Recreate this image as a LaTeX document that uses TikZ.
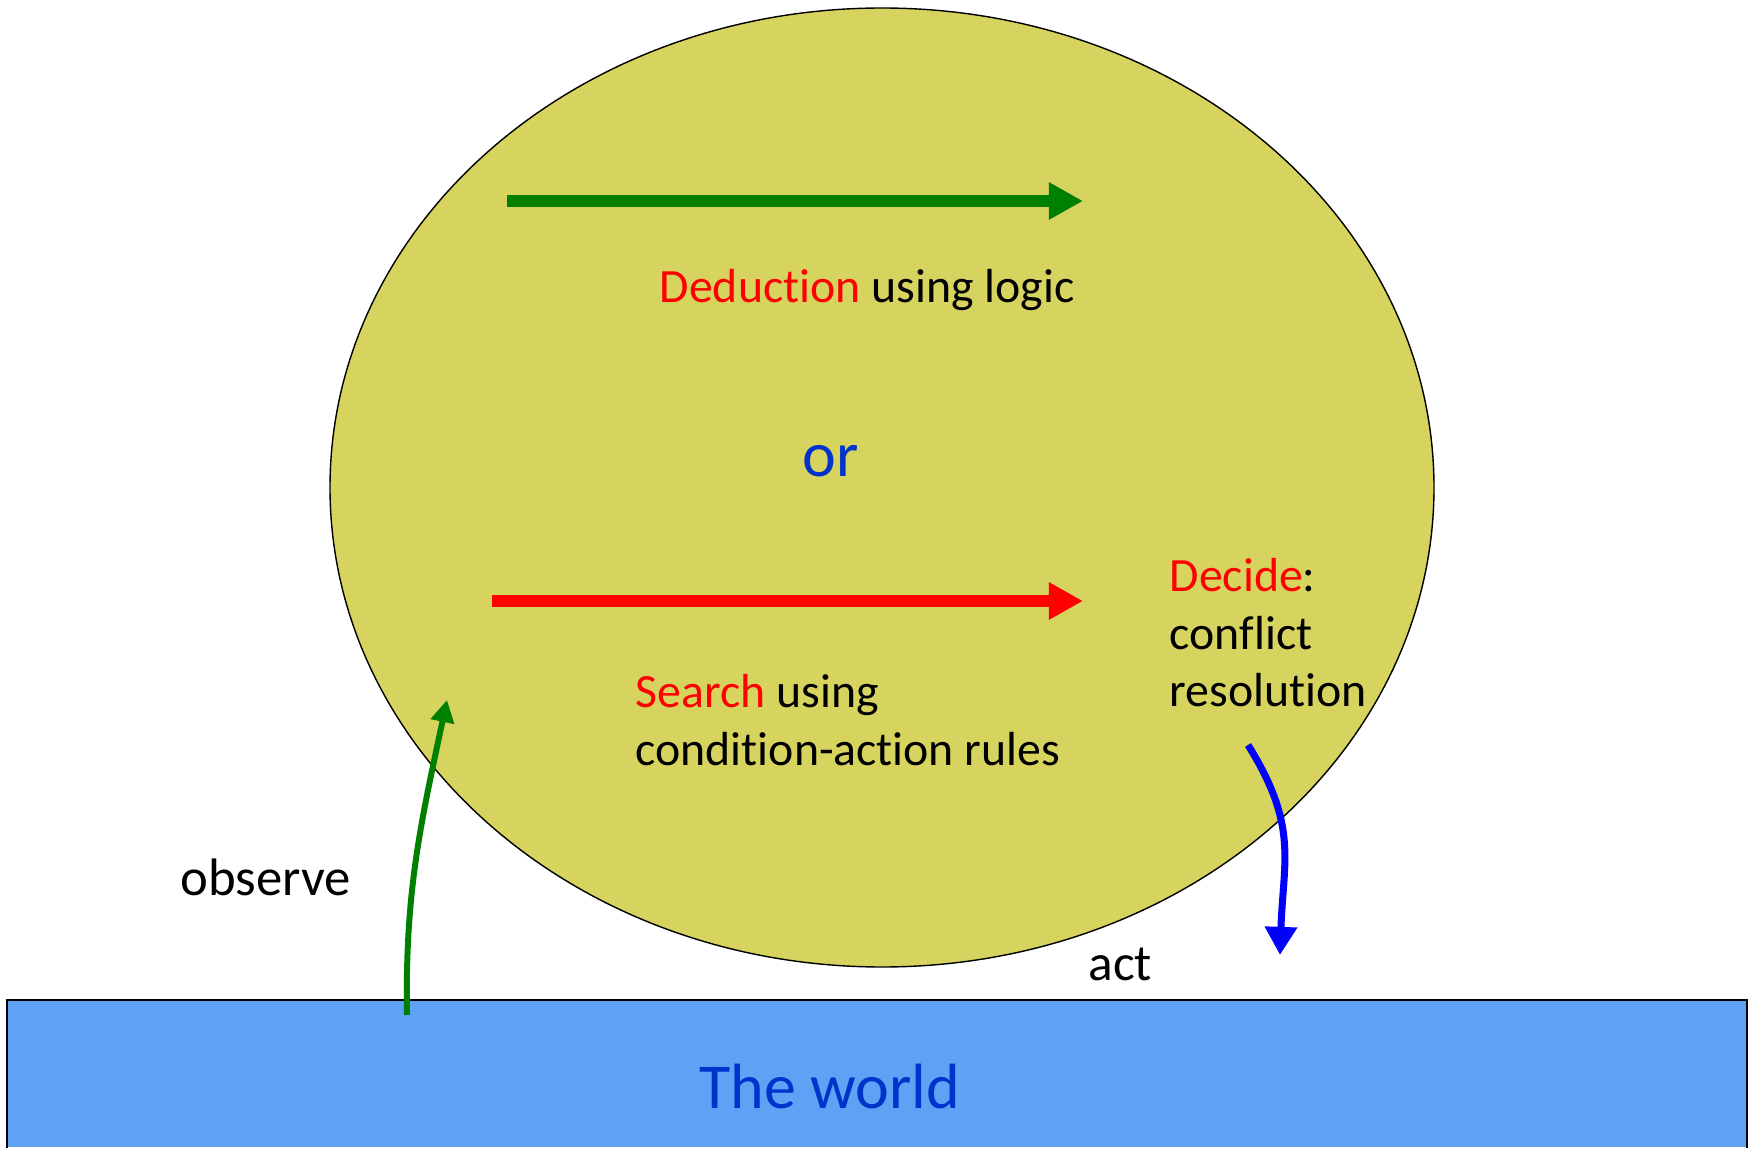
\documentclass[tikz,border=0pt]{standalone}
\usepackage{fontspec}
\setmainfont{Carlito}[Ligatures=NoCommon]
\usetikzlibrary{arrows.meta, shapes.geometric}
\definecolor{mindfill}{RGB}{214,211,94}
\definecolor{worldfill}{RGB}{95,161,245}
\definecolor{darkgreen}{RGB}{0,128,0}
\definecolor{deepblue}{RGB}{0,51,204}

\begin{document}
\begin{tikzpicture}[
        txt/.style={inner sep=0, anchor=base west, align=left, font=\fontsize{13.6}{16.4}\selectfont},
        bigtxt/.style={inner sep=0, anchor=base west, text=deepblue, font=\fontsize{18.2}{22}\selectfont},
        bar/.style={line width=3.3pt, -{Triangle[length=9.7pt, width=10pt]}}]
        \useasboundingbox (0,0) rectangle (17.54,11.48);

        \node[ellipse, draw, fill=mindfill, inner sep=0, minimum width=11.04cm, minimum height=9.59cm] (mind) at (8.82,6.605) {};
        \node[fill=worldfill, inner sep=0, anchor=south west, minimum width=17.39cm, minimum height=1.47cm] (world) at (0.07,0) {};
        \draw[line width=0.6pt] (world.south west) |- (world.north east) -- (world.south east);

        \coordinate (dedstart) at (5.07,9.47);
        \coordinate (dedend) at (10.83,9.47);
        \draw[bar, darkgreen] (dedstart) -- (dedend);
        \node[txt] (deduction) at (6.59,8.45) {\textcolor{red}{Deduction} using logic};

        \node[bigtxt] (or) at (8.02,6.71) {or};

        \coordinate (searchstart) at (4.92,5.47);
        \coordinate (searchend) at (10.83,5.47);
        \draw[bar, red] (searchstart) -- (searchend);
        \node[txt] (search) at (6.35,3.83) {\textcolor{red}{Search} using\\condition-action rules};
        \node[txt] (decide) at (11.69,4.41) {\textcolor{red}{Decide}:\\conflict\\resolution};

        \coordinate (obsfoot) at (4.07,1.33);
        \coordinate (obstip) at (4.47,4.48);
        \draw[darkgreen, line width=1.7pt, -{Triangle[length=6.3pt, width=6.5pt]}] (obsfoot) to[out=91, in=-102] (obstip);
        \node[txt, font=\fontsize{15}{18}\selectfont] (observe) at (1.80,2.53) {observe};

        \coordinate (actfoot) at (12.48,4.03);
        \coordinate (acttip) at (12.80,1.93);
        \draw[blue, line width=2pt, -{Triangle[length=8pt, width=8.8pt]}] (actfoot) to[out=-58, in=88, looseness=1.15] (acttip);
        \node[txt, font=\fontsize{14.6}{17}\selectfont] (act) at (10.88,1.68) {act};

        \node[bigtxt] (worldname) at (6.99,0.40) {The world};
    \end{tikzpicture}
\end{document}
